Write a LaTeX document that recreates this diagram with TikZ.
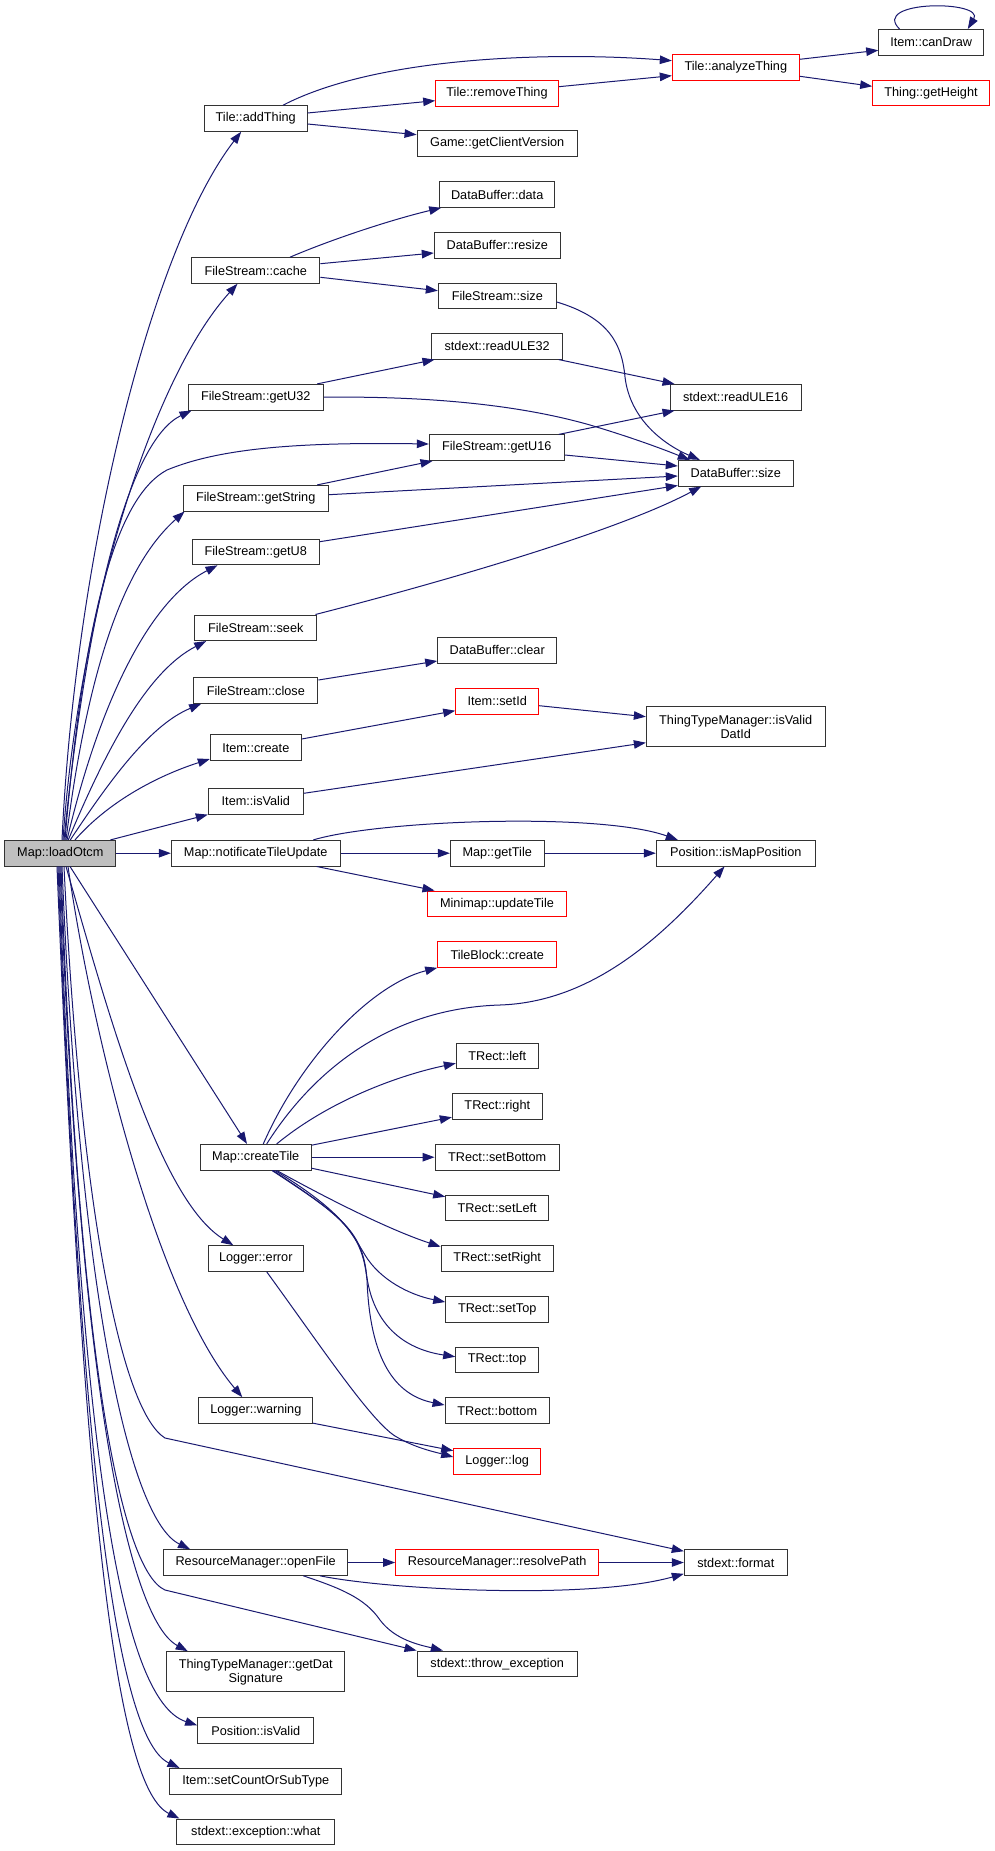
\documentclass[tikz,border=0pt]{standalone}
\usepackage{fontspec}
\setmainfont{Liberation Sans}
\usetikzlibrary{arrows.meta,calc}
\definecolor{edgecol}{HTML}{191970}
\definecolor{boxcol}{HTML}{333333}
\definecolor{redcol}{HTML}{FF0000}
\definecolor{rootfill}{HTML}{BFBFBF}
\begin{document}
\begin{tikzpicture}[x=1pt,y=-1pt,
 box/.style={draw=boxcol,line width=1pt,fill=white,inner sep=0pt,minimum height=25.6pt,font=\fontsize{12.7}{14}\selectfont,align=center},
 rbox/.style={box,draw=redcol},
 e/.style={draw=edgecol,line width=1pt,-{Triangle[length=12pt,width=8.5pt]}}]
\useasboundingbox[fill=white] (0,0) rectangle (995,1851);

% ---- nodes ----
\node[box,fill=rootfill,minimum width=111.3pt] (loadOtcm) at (60.3,853.2) {Map::loadOtcm};
\node[box,minimum width=102.7pt] (addThing) at (255.7,118.5) {Tile::addThing};
\node[rbox,minimum width=122.6pt] (removeThing) at (497,93.3) {Tile::removeThing};
\node[box,minimum width=160.3pt] (gcv) at (497.2,143.7) {Game::getClientVersion};
\node[rbox,minimum width=127pt] (analyze) at (735.8,67.7) {Tile::analyzeThing};
\node[box,minimum width=105pt] (canDraw) at (931.2,42.3) {Item::canDraw};
\node[rbox,minimum width=116.6pt] (getHeight) at (931,93.2) {Thing::getHeight};
\node[box,minimum width=115pt] (dbData) at (497.2,194.5) {DataBuffer::data};
\node[box,minimum width=126pt] (dbResize) at (497.3,245.3) {DataBuffer::resize};
\node[box,minimum width=118pt] (fsSize) at (497.3,296) {FileStream::size};
\node[box,minimum width=128.3pt] (fsCache) at (255.8,270.5) {FileStream::cache};
\node[box,minimum width=131pt] (readULE32) at (497.2,346.3) {stdext::readULE32};
\node[box,minimum width=135pt] (fsGetU32) at (255.8,397.2) {FileStream::getU32};
\node[box,minimum width=130.7pt] (readULE16) at (735.7,397.3) {stdext::readULE16};
\node[box,minimum width=135pt] (fsGetU16) at (496.8,447.7) {FileStream::getU16};
\node[box,minimum width=115pt] (dbSize) at (735.8,473.2) {DataBuffer::size};
\node[box,minimum width=145.3pt] (fsGetString) at (255.7,498.2) {FileStream::getString};
\node[box,minimum width=127pt] (fsGetU8) at (255.8,552) {FileStream::getU8};
\node[box,minimum width=121.7pt] (fsSeek) at (255.8,627.8) {FileStream::seek};
\node[box,minimum width=119pt] (dbClear) at (497.2,650.3) {DataBuffer::clear};
\node[box,minimum width=124.3pt] (fsClose) at (255.8,690.5) {FileStream::close};
\node[rbox,minimum width=83pt] (setId) at (497.2,701.2) {Item::setId};
\node[box,minimum width=91pt] (itemCreate) at (255.8,747.7) {Item::create};
\node[box,minimum width=95pt] (itemIsValid) at (255.8,801.3) {Item::isValid};
\node[box,minimum width=178.7pt,minimum height=39.6pt] (isValidDatId) at (735.7,726.5) {ThingTypeManager::isValid\\DatId};
\node[box,minimum width=168.7pt] (notif) at (255.7,853.2) {Map::notificateTileUpdate};
\node[box,minimum width=93.7pt] (getTile) at (497.2,853.2) {Map::getTile};
\node[box,minimum width=159pt] (isMapPos) at (735.8,853.2) {Position::isMapPosition};
\node[rbox,minimum width=138.6pt] (updateTile) at (497,903.8) {Minimap::updateTile};
\node[rbox,minimum width=119pt] (tbCreate) at (497.2,954.5) {TileBlock::create};
\node[box,minimum width=82pt] (trLeft) at (497.3,1055.8) {TRect::left};
\node[box,minimum width=90pt] (trRight) at (497.3,1106.5) {TRect::right};
\node[box,minimum width=124.3pt] (trSetBottom) at (497.2,1157.2) {TRect::setBottom};
\node[box,minimum width=110.7pt] (createTile) at (255.7,1157.2) {Map::createTile};
\node[box,minimum width=103pt] (trSetLeft) at (497.2,1207.8) {TRect::setLeft};
\node[box,minimum width=112.3pt] (trSetRight) at (497.2,1258.5) {TRect::setRight};
\node[box,minimum width=95pt] (logError) at (255.8,1258.5) {Logger::error};
\node[box,minimum width=103pt] (trSetTop) at (497.2,1309.2) {TRect::setTop};
\node[box,minimum width=83pt] (trTop) at (497.2,1359.8) {TRect::top};
\node[box,minimum width=104.3pt] (trBottom) at (497.2,1410.5) {TRect::bottom};
\node[box,minimum width=113.7pt] (logWarning) at (255.8,1410.5) {Logger::warning};
\node[rbox,minimum width=87pt] (logLog) at (497.2,1461.2) {Logger::log};
\node[box,minimum width=184pt] (openFile) at (255.7,1562.5) {ResourceManager::openFile};
\node[rbox,minimum width=203pt] (resolvePath) at (497.2,1562.5) {ResourceManager::resolvePath};
\node[box,minimum width=103pt] (format) at (735.8,1562.5) {stdext::format};
\node[box,minimum width=177.7pt,minimum height=40.3pt] (getDatSig) at (255.8,1671.8) {ThingTypeManager::getDat\\Signature};
\node[box,minimum width=160.3pt] (throwExc) at (497.2,1663.8) {stdext::throw\_exception};
\node[box,minimum width=116.3pt] (posIsValid) at (255.8,1730.5) {Position::isValid};
\node[box,minimum width=172.3pt] (setCount) at (255.8,1781.2) {Item::setCountOrSubType};
\node[box,minimum width=157.7pt] (excWhat) at (255.8,1831.8) {stdext::exception::what};

% ---- edges from Map::loadOtcm ----
\draw[e] ($(loadOtcm.north)+(1.7,0)$) .. controls (75,560) and (150,250) .. ($(addThing.south west)+(37.3,0)$);
\draw[e] ($(loadOtcm.north)+(2.7,0)$) .. controls (78,620) and (150,380) .. ($(fsCache.south west)+(46.3,0)$);
\draw[e] ($(loadOtcm.north)+(3.7,0)$) .. controls (88,600) and (130,440) .. ($(fsGetU32.south west)+(3.7,0)$);
\draw[e] ($(loadOtcm.north)+(4.7,0)$) .. controls (85,600) and (120,495) .. (167,470) .. controls (220,448) and (300,442) .. ($(fsGetU16.west)+(0,-3.7)$);
\draw[e] ($(loadOtcm.north)+(5.7,0)$) .. controls (90,650) and (130,560) .. ($(fsGetString.south west)+(2,0)$);
\draw[e] ($(loadOtcm.north)+(6.7,0)$) .. controls (100,700) and (150,600) .. ($(fsGetU8.south west)+(25.7,0)$);
\draw[e] ($(loadOtcm.north)+(8,0)$) .. controls (110,740) and (150,670) .. ($(fsSeek.south west)+(11.7,0)$);
\draw[e] ($(loadOtcm.north)+(10,0)$) .. controls (110,780) and (150,725) .. ($(fsClose.south west)+(8,0)$);
\draw[e] ($(loadOtcm.north)+(14.7,0)$) .. controls (110,800) and (160,775) .. ($(itemCreate.west)+(0,11.3)$);
\draw[e] ($(loadOtcm.north east)+(-6,0)$) -- (itemIsValid.south west);
\draw[e] (loadOtcm.east) -- (notif.west);
\draw[e] ($(loadOtcm.south)+(9.7,0)$) -- ($(createTile.north)+(-8.7,0)$);
\draw[e] ($(loadOtcm.south)+(5.7,0)$) .. controls (110,1020) and (160,1200) .. ($(logError.north)+(-22.5,0)$);
\draw[e] ($(loadOtcm.south)+(7.7,0)$) .. controls (95,1050) and (160,1300) .. ($(logWarning.north)+(-13.5,0)$);
\draw[e] ($(loadOtcm.south)+(3.7,0)$) .. controls (80,1200) and (120,1410) .. (165,1438) -- ($(format.north west)+(0,2)$);
\draw[e] ($(loadOtcm.south)+(1.7,0)$) .. controls (80,1300) and (130,1520) .. ($(openFile.north)+(-65.7,0)$);
\draw[e] ($(loadOtcm.south)+(0.7,0)$) .. controls (78,1350) and (120,1570) .. (165,1590) -- (throwExc.north west);
\draw[e] ($(loadOtcm.south)+(-0.3,0)$) .. controls (80,1400) and (130,1620) .. ($(getDatSig.north)+(-68.1,0)$);
\draw[e] ($(loadOtcm.south)+(-1.3,0)$) .. controls (80,1450) and (120,1700) .. ($(posIsValid.west)+(0,-5.2)$);
\draw[e] ($(loadOtcm.south)+(-2.3,0)$) .. controls (82,1500) and (120,1740) .. ($(setCount.north west)+(10.3,0)$);
\draw[e] ($(loadOtcm.south)+(-3.3,0)$) .. controls (85,1550) and (120,1790) .. ($(excWhat.north west)+(3,0)$);

% ---- Tile::addThing ----
\draw[e] ($(addThing.north)+(27.3,0)$) .. controls (380,55) and (560,52) .. ($(analyze.west)+(0,-7)$);
\draw[e] ($(addThing.east)+(0,-5.5)$) -- ($(removeThing.west)+(0,7.4)$);
\draw[e] ($(addThing.east)+(0,5.5)$) -- ($(gcv.west)+(0,-9)$);
\draw[e] ($(removeThing.east)+(0,-6.6)$) -- ($(analyze.west)+(0,8)$);
\draw[e] ($(analyze.east)+(0,-8.4)$) -- ($(canDraw.west)+(0,8)$);
\draw[e] ($(analyze.east)+(0,8.6)$) -- ($(getHeight.west)+(0,-6.9)$);
\draw[e] ($(canDraw.north west)+(21.3,0)$) .. controls (870,0) and (985,0) .. ($(canDraw.north west)+(89.6,0)$);

% ---- FileStream::cache ----
\draw[e] ($(fsCache.north)+(34.2,0)$) .. controls (330,240) and (390,220) .. ($(dbData.south west)+(2,0)$);
\draw[e] ($(fsCache.east)+(0,-6.8)$) -- ($(dbResize.west)+(0,7.7)$);
\draw[e] ($(fsCache.east)+(0,6.8)$) -- ($(fsSize.west)+(0,-5.3)$);
\draw[e] ($(fsSize.east)+(0,6)$) .. controls (610,318) and (622,345) .. (625,377) .. controls (630,420) and (665,445) .. ($(dbSize.north west)+(22,0)$);

% ---- readULE / getU32 / getU16 / getString / getU8 / seek ----
\draw[e] ($(readULE32.south east)+(-4.4,0)$) -- ($(readULE16.north west)+(4.7,0)$);
\draw[e] ($(fsGetU32.north east)+(-6.6,0)$) -- ($(readULE32.south west)+(3.3,0)$);
\draw[e] (fsGetU32.east) .. controls (430,396) and (520,405) .. (590,425) .. controls (640,440) and (670,452) .. ($(dbSize.north west)+(12,0)$);
\draw[e] ($(fsGetU16.north east)+(-6,0)$) -- ($(readULE16.south west)+(4.7,0)$);
\draw[e] ($(fsGetU16.east)+(0,7.3)$) -- ($(dbSize.west)+(0,-7.2)$);
\draw[e] ($(fsGetString.north east)+(-11.7,0)$) -- ($(fsGetU16.south west)+(3.7,0)$);
\draw[e] ($(fsGetString.east)+(0,-3.5)$) -- ($(dbSize.west)+(0,2.8)$);
\draw[e] ($(fsGetU8.east)+(0,-10.3)$) -- ($(dbSize.south west)+(0,-1)$);
\draw[e] ($(fsSeek.north east)+(-1.7,0)$) .. controls (450,580) and (620,530) .. ($(dbSize.south west)+(23.4,0)$);

% ---- close / create / isValid ----
\draw[e] ($(fsClose.east)+(0,-10.5)$) -- ($(dbClear.west)+(0,10.7)$);
\draw[e] ($(itemCreate.east)+(0,-8.7)$) -- ($(setId.west)+(0,9.5)$);
\draw[e] ($(setId.east)+(0,4.5)$) -- ($(isValidDatId.west)+(0,-9.8)$);
\draw[e] ($(itemIsValid.east)+(0,-8)$) -- ($(isValidDatId.west)+(0,16.2)$);

% ---- notificateTileUpdate ----
\draw[e] (notif.east) -- (getTile.west);
\draw[e] ($(notif.north)+(57.6,0)$) .. controls (380,820) and (600,812) .. ($(isMapPos.north west)+(22,0)$);
\draw[e] ($(notif.south)+(61,0)$) -- ($(updateTile.north west)+(7.3,0)$);
\draw[e] (getTile.east) -- (isMapPos.west);

% ---- createTile ----
\draw[e] ($(createTile.north)+(7.6,0)$) .. controls (300,1060) and (370,985) .. (tbCreate.south west);
\draw[e] ($(createTile.north)+(11,0)$) .. controls (320,1060) and (400,1008) .. (500,1005) .. controls (590,1002) and (660,940) .. ($(isMapPos.south west)+(68.7,0)$);
\draw[e] ($(createTile.north)+(21,0)$) .. controls (330,1100) and (400,1075) .. ($(trLeft.west)+(0,7.5)$);
\draw[e] ($(createTile.east)+(0,-12)$) -- ($(trRight.south west)+(0,-2.6)$);
\draw[e] (createTile.east) -- (trSetBottom.west);
\draw[e] ($(createTile.east)+(0,11)$) -- ($(trSetLeft.west)+(0,-11.1)$);
\draw[e] ($(createTile.south)+(21,0)$) .. controls (330,1200) and (390,1230) .. ($(trSetRight.west)+(0,-11.8)$);
\draw[e] ($(createTile.south)+(19.3,0)$) .. controls (340,1210) and (350,1230) .. (365,1255) .. controls (380,1280) and (410,1295) .. ($(trSetTop.west)+(0,-7.2)$);
\draw[e] ($(createTile.south)+(17.3,0)$) .. controls (340,1215) and (360,1230) .. (366,1270) .. controls (372,1330) and (410,1350) .. ($(trTop.west)+(0,-3.1)$);
\draw[e] ($(createTile.south)+(16.3,0)$) .. controls (340,1215) and (362,1230) .. (367,1280) .. controls (370,1360) and (395,1395) .. ($(trBottom.west)+(0,-5.5)$);

% ---- Logger ----
\draw[e] ($(logError.south)+(10.9,0)$) .. controls (320,1345) and (370,1420) .. (395,1436) .. controls (415,1448) and (435,1452) .. ($(logLog.west)+(0,-4.2)$);
\draw[e] ($(logWarning.south east)+(0,-0.6)$) -- ($(logLog.west)+(0,-10.5)$);

% ---- ResourceManager ----
\draw[e] (openFile.east) -- (resolvePath.west);
\draw[e] ($(openFile.south)+(64.3,0)$) .. controls (390,1590) and (590,1600) .. ($(format.south west)+(0,-2)$);
\draw[e] ($(openFile.south)+(47.6,0)$) .. controls (340,1588) and (365,1598) .. (380,1620) .. controls (395,1640) and (420,1645) .. ($(throwExc.north west)+(26.3,0)$);
\draw[e] (resolvePath.east) -- (format.west);
\end{tikzpicture}
\end{document}
